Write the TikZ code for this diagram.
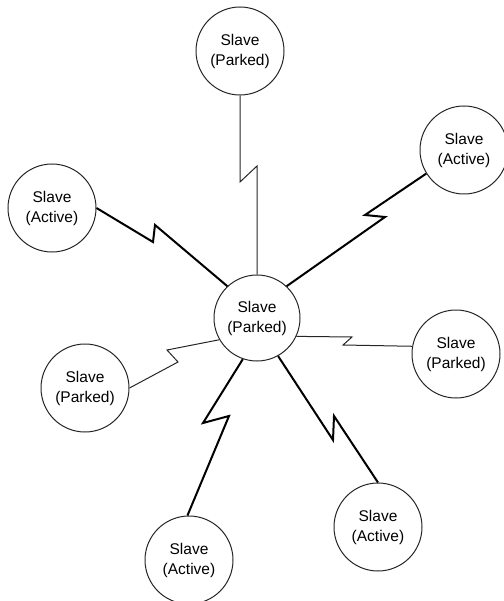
\documentclass[tikz,border=0pt]{standalone}
\usepackage{fontspec}
\setmainfont{Liberation Sans}
\begin{document}
\begin{tikzpicture}[x=1pt,y=-1pt,
  station/.style={circle,draw=black!85,line width=1pt,minimum size=88pt,inner sep=0pt,
    align=center,font=\fontsize{15.5}{20}\selectfont},
  activelink/.style={draw=black,line width=2pt,line join=miter},
  parkedlink/.style={draw=black!85,line width=1pt,line join=miter}]
\useasboundingbox (0,0) rectangle (503,601);

% stations
\node[station,minimum size=86pt] (C)  at (257,318) {Slave\\(Parked)};
\node[station] (T)  at (240,51)  {Slave\\(Parked)};
\node[station] (UL) at (52,208)  {Slave\\(Active)};
\node[station] (UR) at (464,150) {Slave\\(Active)};
\node[station] (R)  at (456,354) {Slave\\(Parked)};
\node[station] (LL) at (85,388)  {Slave\\(Parked)};
\node[station] (BL) at (189,560) {Slave\\(Active)};
\node[station] (BR) at (378,527) {Slave\\(Active)};

% bends of the lightning-bolt links
\coordinate (t1)  at (257,166); \coordinate (t2)  at (240,182);
\coordinate (ul1) at (155,225); \coordinate (ul2) at (153,242);
\coordinate (ur1) at (385,217); \coordinate (ur2) at (365,215);
\coordinate (r1)  at (352,337); \coordinate (r2)  at (343,345);
\coordinate (ll1) at (167,350); \coordinate (ll2) at (178,362);
\coordinate (bl1) at (203,423); \coordinate (bl2) at (229,416);
\coordinate (br1) at (333,440); \coordinate (br2) at (334,416);

% links
\draw[parkedlink] (C.90)  -- (t1)  -- (t2)  -- (T.270);
\draw[activelink] (C.133) -- (ul1) -- (ul2) -- (UL.0);
\draw[activelink] (C.47)  -- (ur1) -- (ur2) -- (UR.212);
\draw[parkedlink] (C.335) -- (r1)  -- (r2)  -- (R.170);
\draw[parkedlink] (C.210) -- (ll1) -- (ll2) -- (LL.0);
\draw[activelink] (C.251) -- (bl1) -- (bl2) -- (BL.92);
\draw[activelink] (C.299) -- (br1) -- (br2) -- (BR.90);
\end{tikzpicture}
\end{document}
